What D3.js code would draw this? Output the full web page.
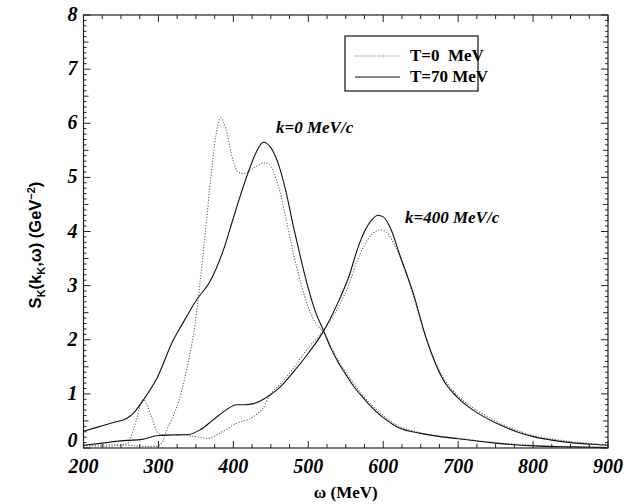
<!DOCTYPE html>
<html><head><meta charset="utf-8">
<script src="https://cdn.jsdelivr.net/npm/d3@7"></script>
<style>body{margin:0;background:#fff} text{font-family:"Liberation Serif","Times New Roman",serif}</style>
</head><body>
<svg id="c" width="643" height="504"></svg>
<script>
// ---- data ----
const xTicks = [200,300,400,500,600,700,800,900];
const yTicks = [0,1,2,3,4,5,6,7,8];
const legendLabels = ["T=0  MeV","T=70 MeV"];
const curveLabels = ["k=0 MeV/c","k=400 MeV/c"];

// k=0 MeV/c, T=70 MeV (solid)
const k0T70_w = [200,220,240,258,265,280,298,320,329,351,369,387,400,409,420,430,440,450,460,470,480,490,500,510,520,530,540,550,560,570,580,600,620,650,700,750,800,850,900];
const k0T70_s = [0.31,0.39,0.47,0.55,0.62,0.89,1.29,2.0,2.22,2.74,3.08,3.67,4.25,4.65,5.1,5.45,5.65,5.55,5.25,4.75,4.1,3.5,2.95,2.5,2.18,1.85,1.58,1.36,1.15,0.98,0.82,0.56,0.38,0.27,0.17,0.09,0.04,0.02,0.01];
// k=0 MeV/c, T=0 (dotted)
const k0T0_w = [200,230,260,280,298,305,311,320,329,340,349,355,362,370,377,383,390,398,405,412,420,430,443,450,460,470,480,490,500,510,520,530,540,550,560,570,580,600,620,650,700,750,800,850,900];
const k0T0_s = [0.03,0.06,0.05,0.03,0.03,0.1,0.33,0.6,0.95,1.6,2.3,3.0,3.9,5.0,5.8,6.1,5.9,5.4,5.12,5.07,5.1,5.2,5.27,5.2,4.85,4.25,3.6,3.05,2.6,2.3,2.15,1.88,1.62,1.4,1.2,1.02,0.86,0.6,0.41,0.28,0.18,0.1,0.05,0.02,0.01];
// k=400 MeV/c, T=70 MeV (solid)
const k400T70_w = [200,230,258,278,300,320,340,355,373,390,404,415,427,449,462,480,500,520,540,555,565,575,585,593,600,610,622,640,658,680,698,720,734,760,778,800,823,850,889,900];
const k400T70_s = [0.05,0.1,0.14,0.16,0.23,0.24,0.25,0.33,0.52,0.7,0.8,0.8,0.82,0.98,1.12,1.4,1.75,2.15,2.7,3.2,3.65,4.0,4.22,4.3,4.27,4.05,3.57,2.86,2.0,1.26,0.95,0.7,0.58,0.4,0.3,0.21,0.15,0.1,0.06,0.05];
// k=400 MeV/c, T=0 (dotted)
const k400T0_w = [200,230,258,268,280,290,300,311,330,345,365,385,405,427,440,449,462,480,500,520,540,555,565,575,585,597,605,615,625,640,658,680,698,720,734,760,778,800,823,850,889,900];
const k400T0_s = [0.05,0.03,0.08,0.4,0.89,0.6,0.27,0.24,0.25,0.22,0.18,0.3,0.46,0.58,0.75,0.98,1.17,1.47,1.85,2.17,2.6,3.05,3.45,3.75,3.95,4.03,3.98,3.75,3.45,2.82,2.0,1.3,0.99,0.74,0.62,0.43,0.33,0.23,0.17,0.12,0.07,0.06];

// ---- chart ----
const svg = d3.select("#c");
const L=83.5, R=608, T=15, B=448;
const x = d3.scaleLinear().domain([200,900]).range([L,R]);
const y = d3.scaleLinear().domain([0,8]).range([B,T]);

const line = d3.line().x(d=>x(d[0])).y(d=>y(d[1])).curve(d3.curveMonotoneX);
const zip = (w,s)=>w.map((v,i)=>[v,s[i]]);
const series = [
  {w:k0T0_w, s:k0T0_s, dotted:true},
  {w:k400T0_w, s:k400T0_s, dotted:true},
  {w:k0T70_w, s:k0T70_s, dotted:false},
  {w:k400T70_w, s:k400T70_s, dotted:false}
];
svg.append("clipPath").attr("id","pc").append("rect").attr("x",L).attr("y",T).attr("width",R-L).attr("height",B-T);
const g = svg.append("g").attr("clip-path","url(#pc)");
series.forEach(sr=>{
  g.append("path").datum(zip(sr.w,sr.s)).attr("d",line).attr("fill","none")
   .attr("stroke", sr.dotted ? "#666" : "#111")
   .attr("stroke-width", 1.1)
   .attr("stroke-dasharray", sr.dotted ? "1.2,1.6" : null);
});

// frame
svg.append("rect").attr("x",L).attr("y",T).attr("width",R-L).attr("height",B-T)
  .attr("fill","none").attr("stroke","#222").attr("stroke-width",1.2);

// ticks (inward, all sides)
const tg = svg.append("g").attr("stroke","#222").attr("stroke-width",1);
d3.range(200,901,25).forEach(v=>{
  const len = v%100===0 ? 7 : 4;
  tg.append("line").attr("x1",x(v)).attr("x2",x(v)).attr("y1",B).attr("y2",B-len);
  tg.append("line").attr("x1",x(v)).attr("x2",x(v)).attr("y1",T).attr("y2",T+len);
});
d3.range(0,81,1).forEach(i=>{
  const v=i/10;
  const len = i%10===0 ? 7 : (i%5===0 ? 5 : 3);
  tg.append("line").attr("x1",L).attr("x2",L+len).attr("y1",y(v)).attr("y2",y(v));
  tg.append("line").attr("x1",R).attr("x2",R-len).attr("y1",y(v)).attr("y2",y(v));
});

// tick labels
svg.append("g").selectAll("text").data(xTicks).join("text")
  .attr("x",d=>x(d)).attr("y",B+25).attr("text-anchor","middle")
  .attr("font-style","italic").attr("font-weight","bold")
  .attr("font-size",20).text(d=>d);
svg.append("g").selectAll("text").data(yTicks).join("text")
  .attr("x",L-6).attr("y",d=>y(d)+ (d===0? -1 : 6)).attr("text-anchor","end")
  .attr("font-style","italic").attr("font-weight","bold")
  .attr("font-size",20).text(d=>d);

// axis titles
svg.append("text").attr("x",(L+R)/2).attr("y",B+50).attr("text-anchor","middle")
  .attr("font-size",17).attr("font-weight","bold").text("ω (MeV)");
const yt = svg.append("text").attr("transform","translate(41,245) rotate(-90)")
  .attr("text-anchor","middle").style("font-family","'Liberation Sans',Arial,sans-serif")
  .attr("font-size",16.5).attr("font-weight","bold");
yt.append("tspan").text("S");
yt.append("tspan").attr("font-size",11).attr("dy",4).text("K");
yt.append("tspan").attr("dy",-4).text("(k");
yt.append("tspan").attr("font-size",11).attr("dy",4).text("K");
yt.append("tspan").attr("dy",-4).text(",ω) (GeV");
yt.append("tspan").attr("font-size",11).attr("dy",-6).text("−2");
yt.append("tspan").attr("dy",6).text(")");

// curve labels
const lblPos = [[276,133],[405,223]];
curveLabels.forEach((t,i)=>{
  svg.append("text").attr("x",lblPos[i][0]).attr("y",lblPos[i][1])
    .attr("font-style","italic").attr("font-weight","bold")
    .attr("font-size",17).text(t);
});

// legend
svg.append("rect").attr("x",345).attr("y",36).attr("width",133).attr("height",55)
  .attr("fill","#fff").attr("stroke","#222").attr("stroke-width",1.3);
legendLabels.forEach((t,i)=>{
  const yy = 56 + i*21;
  svg.append("line").attr("x1",355).attr("x2",400).attr("y1",yy).attr("y2",yy)
    .attr("stroke", i===0 ? "#666" : "#111").attr("stroke-width",1.1)
    .attr("stroke-dasharray", i===0 ? "1.2,1.6" : null);
  svg.append("text").attr("x",410).attr("y",yy+5)
    .attr("font-weight","bold").attr("font-size",17)
    .style("white-space","pre").text(t);
});
</script>
</body></html>
